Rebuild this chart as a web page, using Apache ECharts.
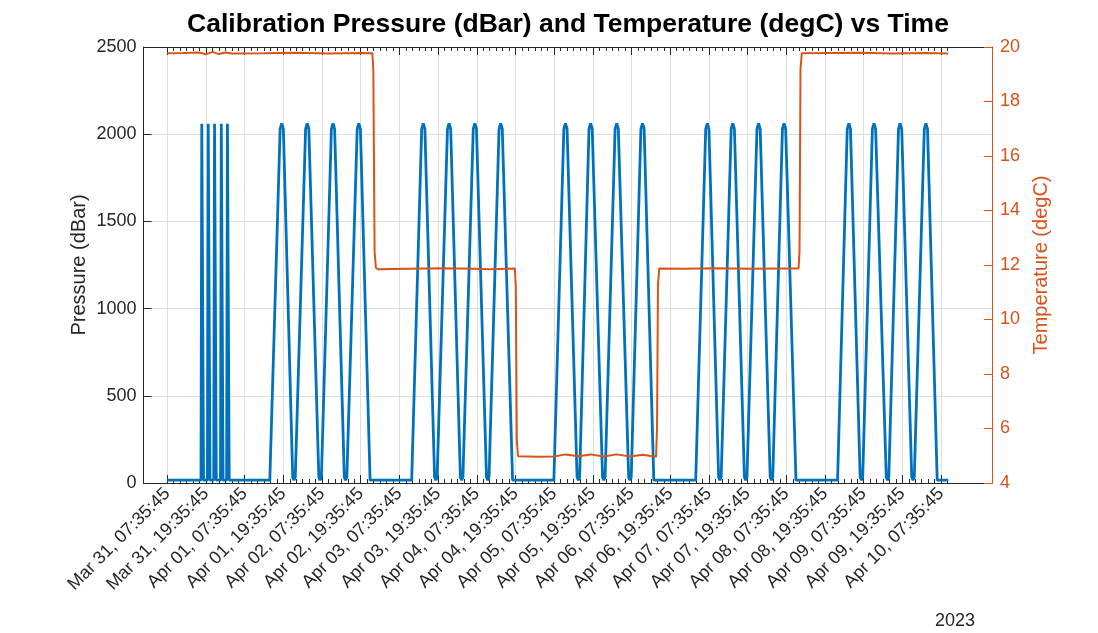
<!DOCTYPE html>
<html>
<head>
<meta charset="utf-8">
<script src="https://cdn.jsdelivr.net/npm/echarts@6/dist/echarts.min.js"></script>
<style>html,body{margin:0;padding:0;background:#fff}#c{width:1098px;height:633px}</style>
</head>
<body>
<div id="c"></div>
<script>
// ---- data (hours since Mar 31 2023, 07:35:45) ----
const xTickHours = [0,12,24,36,48,60,72,84,96,108,120,132,144,156,168,180,192,204,216,228,240];
const xTickLabels = ['Mar 31, 07:35:45','Mar 31, 19:35:45','Apr 01, 07:35:45','Apr 01, 19:35:45','Apr 02, 07:35:45','Apr 02, 19:35:45','Apr 03, 07:35:45','Apr 03, 19:35:45','Apr 04, 07:35:45','Apr 04, 19:35:45','Apr 05, 07:35:45','Apr 05, 19:35:45','Apr 06, 07:35:45','Apr 06, 19:35:45','Apr 07, 07:35:45','Apr 07, 19:35:45','Apr 08, 07:35:45','Apr 08, 19:35:45','Apr 09, 07:35:45','Apr 09, 19:35:45','Apr 10, 07:35:45'];
const xMinorHours = [0,2,4,6,8,10,12,14,16,18,20,22,24,26,28,30,32,34,36,38,40,42,44,46,48,50,52,54,56,58,60,62,64,66,68,70,72,74,76,78,80,82,84,86,88,90,92,94,96,98,100,102,104,106,108,110,112,114,116,118,120,122,124,126,128,130,132,134,136,138,140,142,144,146,148,150,152,154,156,158,160,162,164,166,168,170,172,174,176,178,180,182,184,186,188,190,192,194,196,198,200,202,204,206,208,210,212,214,216,218,220,222,224,226,228,230,232,234,236,238,240,242];
const pressureTicks = [0,500,1000,1500,2000,2500];
const tempTicks = [4,6,8,10,12,14,16,18,20];

const pressureHours = [
 0,10.45,10.7,11.0,11.25,12.45,12.7,13.0,13.25,14.4,14.65,14.95,15.2,16.5,16.75,17.05,17.3,18.4,18.65,18.95,19.2,
 31.8,35.0,35.5,36.0,38.9,39.3,39.7,42.9,43.4,43.9,47.0,47.4,47.8,50.9,51.4,51.9,54.9,55.3,55.7,58.9,59.4,59.9,62.9,
 75.8,78.9,79.4,79.9,82.9,83.3,83.7,86.9,87.4,87.9,90.9,91.3,91.7,94.9,95.4,95.9,99.0,99.4,99.8,102.9,103.4,103.9,107.1,
 119.9,123.0,123.5,124.0,127.1,127.5,127.9,130.8,131.3,131.8,135.0,135.4,135.8,138.9,139.4,139.9,143.1,143.5,143.9,146.9,147.4,147.9,150.9,
 163.9,167.0,167.5,168.0,171.0,171.4,171.8,174.9,175.4,175.9,179.0,179.4,179.8,182.9,183.4,183.9,187.0,187.4,187.8,190.8,191.3,191.8,195.0,
 207.9,210.9,211.4,211.9,214.9,215.3,215.7,218.7,219.2,219.7,223.0,223.4,223.8,226.8,227.3,227.8,230.9,231.3,231.7,234.8,235.3,235.8,238.8,
 242.2
];
const pressureValues = [
 16,16,2060,2060,16,16,2060,2060,16,16,2060,2060,16,16,2060,2060,16,16,2060,2060,16,
 16,2030,2062,2030,35,16,35,2030,2062,2030,35,16,35,2030,2062,2030,35,16,35,2030,2062,2030,16,
 16,2030,2062,2030,35,16,35,2030,2062,2030,35,16,35,2030,2062,2030,35,16,35,2030,2062,2030,16,
 16,2030,2062,2030,35,16,35,2030,2062,2030,35,16,35,2030,2062,2030,35,16,35,2030,2062,2030,16,
 16,2030,2062,2030,35,16,35,2030,2062,2030,35,16,35,2030,2062,2030,35,16,35,2030,2062,2030,16,
 16,2030,2062,2030,35,16,35,2030,2062,2030,35,16,35,2030,2062,2030,35,16,35,2030,2062,2030,16,
 16
];

const tempHours = [0,5,10,12,14,16,18,20,30,40,50,60,63.6,63.9,64.3,64.7,65.5,75,85,95,100,107.8,108.1,108.4,108.8,115,120,123.5,127.5,131.3,135.4,139.4,143.5,147.4,151.6,151.9,152.2,152.6,160,170,180,190,195.8,196.1,196.4,196.8,205,215,225,235,242.2];
const tempValues = [19.77,19.78,19.80,19.73,19.82,19.74,19.80,19.76,19.77,19.79,19.76,19.78,19.77,19.2,12.5,11.9,11.84,11.86,11.88,11.86,11.84,11.87,11.2,5.6,4.98,4.96,4.97,5.05,4.98,5.05,4.97,5.05,4.97,5.04,4.96,6.0,11.3,11.87,11.86,11.88,11.86,11.87,11.87,12.5,19.2,19.77,19.78,19.79,19.76,19.78,19.76];

// ---- chart ----
const FONT = '"Liberation Sans", Arial, Helvetica, sans-serif';
const AX = '#262626';
const ORANGE = '#D95319';
const BLUE = '#0072BD';
const GRIDC = '#dedede';
const X_MIN = -7.38, X_MAX = 255.8;

const pData = pressureHours.map((h, i) => [h, pressureValues[i]]);
const tData = tempHours.map((h, i) => [h, tempValues[i]]);

function xAxisBase(extra) {
  return Object.assign({
    type: 'value', min: X_MIN, max: X_MAX, gridIndex: 0,
    axisLine: { show: false, onZero: false },
    axisTick: { show: false },
    axisLabel: { show: false },
    splitLine: { show: false }
  }, extra);
}

const chart = echarts.init(document.getElementById('c'), null, { renderer: 'canvas' });
chart.setOption({
  animation: false,
  backgroundColor: '#fff',
  grid: { left: 143.5, right: 106, top: 47, bottom: 150, containLabel: false },
  xAxis: [
    xAxisBase({
      position: 'bottom',
      axisLine: { show: true, onZero: false, lineStyle: { color: AX, width: 1 } },
      axisTick: { show: true, inside: true, length: 8, customValues: xTickHours, lineStyle: { color: AX, width: 1 } },
      axisLabel: {
        show: true, customValues: xTickHours, rotate: 45, margin: 8,
        fontSize: 18, fontFamily: FONT, color: AX,
        formatter: function (v) { const i = xTickHours.indexOf(Math.round(v)); return i >= 0 ? xTickLabels[i] : ''; }
      },
      splitLine: { show: true, lineStyle: { color: GRIDC, width: 1 } }
    }),
    xAxisBase({
      position: 'bottom',
      axisTick: { show: true, inside: true, length: 4, customValues: xMinorHours, lineStyle: { color: AX, width: 1 } }
    }),
    xAxisBase({
      position: 'top',
      axisLine: { show: true, onZero: false, lineStyle: { color: AX, width: 1 } },
      axisTick: { show: true, inside: true, length: 8, customValues: xTickHours, lineStyle: { color: AX, width: 1 } }
    }),
    xAxisBase({
      position: 'top',
      axisTick: { show: true, inside: true, length: 4, customValues: xMinorHours, lineStyle: { color: AX, width: 1 } }
    })
  ],
  yAxis: [
    {
      type: 'value', position: 'left', min: 0, max: 2500, interval: 500,
      name: 'Pressure (dBar)', nameLocation: 'middle', nameGap: 54, nameRotate: 90, nameMoveOverlap: false,
      nameTextStyle: { fontSize: 20, fontFamily: FONT, color: AX },
      axisLine: { show: true, onZero: false, lineStyle: { color: AX, width: 1 } },
      axisTick: { show: true, inside: true, length: 8, lineStyle: { color: AX } },
      axisLabel: { fontSize: 18, fontFamily: FONT, color: AX, margin: 7,
        formatter: function (v) { return pressureTicks.indexOf(v) >= 0 ? String(v) : ''; } },
      splitLine: { show: true, lineStyle: { color: GRIDC, width: 1 } }
    },
    {
      type: 'value', position: 'right', min: 4, max: 20, interval: 2,
      name: 'Temperature (degC)', nameLocation: 'middle', nameGap: 39, nameRotate: 90, nameMoveOverlap: false,
      nameTextStyle: { fontSize: 20, fontFamily: FONT, color: ORANGE },
      axisLine: { show: true, onZero: false, lineStyle: { color: ORANGE, width: 1 } },
      axisTick: { show: true, inside: true, length: 8, lineStyle: { color: ORANGE } },
      axisLabel: { fontSize: 18, fontFamily: FONT, color: ORANGE, margin: 8,
        formatter: function (v) { return tempTicks.indexOf(v) >= 0 ? String(v) : ''; } },
      splitLine: { show: false }
    }
  ],
  graphic: [
    { type: 'text', style: { x: 568, y: 25, text: 'Calibration Pressure (dBar) and Temperature (degC) vs Time', font: 'bold 26.5px ' + FONT, fill: '#000', align: 'center', verticalAlign: 'middle' } },
    { type: 'text', style: { x: 955, y: 621, text: '2023', font: '18px ' + FONT, fill: AX, align: 'center', verticalAlign: 'middle' } }
  ],
  series: [
    { type: 'line', xAxisIndex: 0, yAxisIndex: 0, data: pData, showSymbol: false, symbol: 'none',
      lineStyle: { color: BLUE, width: 2.8 }, itemStyle: { color: BLUE }, z: 2 },
    { type: 'line', xAxisIndex: 0, yAxisIndex: 1, data: tData, showSymbol: false, symbol: 'none',
      lineStyle: { color: ORANGE, width: 2 }, itemStyle: { color: ORANGE }, z: 3 }
  ]
});
</script>
</body>
</html>
